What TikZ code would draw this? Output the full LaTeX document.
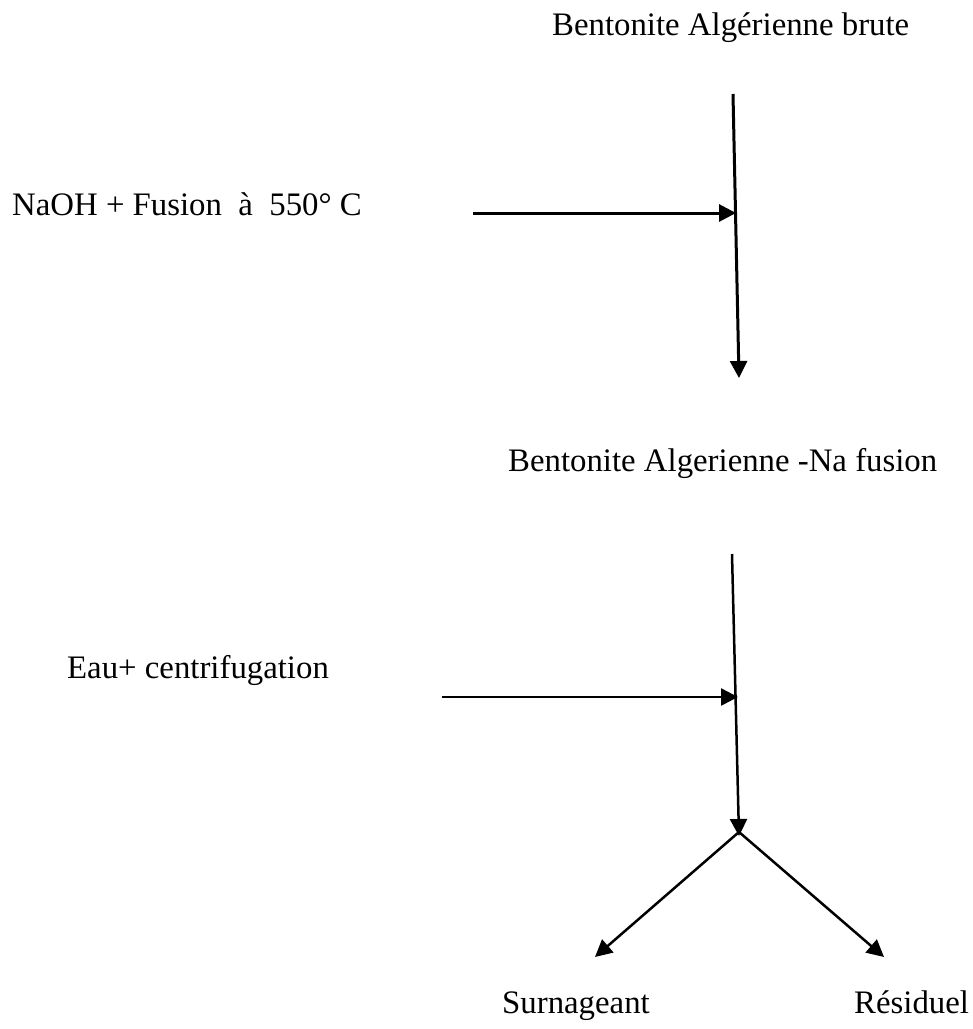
\documentclass[tikz,border=0pt]{standalone}
\usepackage{fontspec}
\setmainfont{Liberation Serif}
\usetikzlibrary{arrows.meta}
\begin{document}
\begin{tikzpicture}[x=1pt,y=-1pt,
  lbl/.style={inner sep=0pt,anchor=base west,font=\fontsize{32.8}{40}\selectfont},
  flow/.style={line width=3pt,-{Triangle[length=17pt,width=17pt]}},
  flowb/.style={line width=2.5pt,-{Triangle[length=17pt,width=17pt]}}]
\useasboundingbox (0,0) rectangle (973,1029);
\node[lbl] (top) at (552,35) {Bentonite Algérienne brute};
\node[lbl] (naoh) at (12,215) {NaOH + Fusion\ \ à\ \ 550° C};
\node[lbl] (mid) at (508,471) {Bentonite Algerienne -Na fusion};
\node[lbl] (eau) at (67,678) {Eau+ centrifugation};
\node[lbl] (surn) at (502,1013) {Surnageant};
\node[lbl] (resid) at (854,1013) {Résiduel};
\coordinate (v1s) at (733,94);
\coordinate (v1e) at (739,378);
\coordinate (h1s) at (473,213);
\coordinate (h1e) at (736,213);
\coordinate (v2s) at (732,554);
\coordinate (v2e) at (739,836);
\coordinate (h2s) at (442,697);
\coordinate (h2e) at (738,697);
\coordinate (split) at (739,832);
\coordinate (le) at (595,957);
\coordinate (re) at (884,957);
\draw[flow] (v1s) -- (v1e);
\draw[flow] (h1s) -- (h1e);
\draw[flowb] (v2s) -- (v2e);
\draw[flowb] (h2s) -- (h2e);
\draw[flowb] (split) -- (le);
\draw[flowb] (split) -- (re);
\end{tikzpicture}
\end{document}
